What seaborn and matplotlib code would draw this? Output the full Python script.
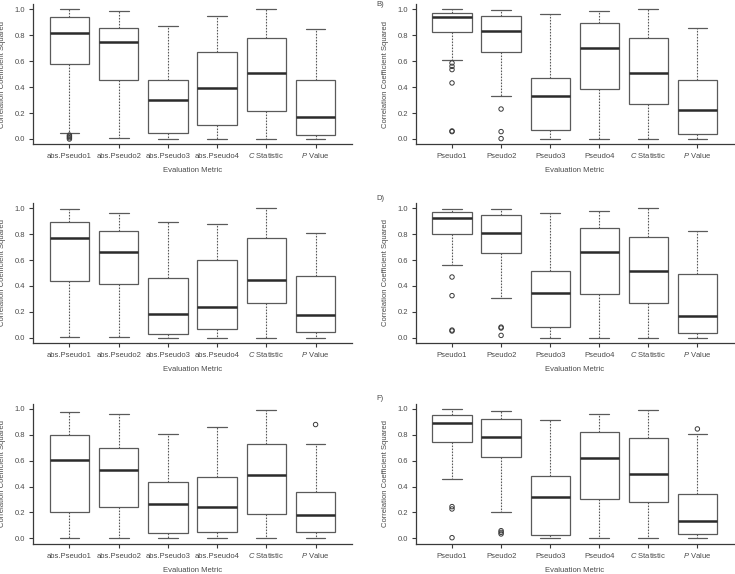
import numpy as np
import pandas as pd
import matplotlib
matplotlib.use("Agg")
import matplotlib.pyplot as plt
import seaborn as sns

# category labels (left column uses abs. prefix)
LABELS_ABS = ["abs.Pseudo1", "abs.Pseudo2", "abs.Pseudo3", "abs.Pseudo4",
              "$\\mathit{C}$ Statistic", "$\\mathit{P}$ Value"]
LABELS = ["Pseudo1", "Pseudo2", "Pseudo3", "Pseudo4",
          "$\\mathit{C}$ Statistic", "$\\mathit{P}$ Value"]

# five number summaries per box: [lower whisker, q1, median, q3, upper whisker]
A_boxes = [[0.05, 0.58, 0.82, 0.94, 1.00],
           [0.008, 0.452, 0.746, 0.859, 0.985],
           [0.00, 0.049, 0.298, 0.455, 0.874],
           [0.00, 0.108, 0.396, 0.671, 0.946],
           [0.00, 0.219, 0.506, 0.781, 1.00],
           [0.00, 0.031, 0.167, 0.458, 0.851]]
A_out = [[0.03, 0.02, 0.01, 0.0], [], [], [], [], []]

B_boxes = [[0.609, 0.828, 0.943, 0.974, 1.00],
           [0.334, 0.668, 0.830, 0.951, 0.992],
           [0.00, 0.072, 0.329, 0.473, 0.967],
           [0.00, 0.388, 0.704, 0.892, 0.990],
           [0.00, 0.267, 0.509, 0.776, 1.00],
           [0.00, 0.041, 0.226, 0.455, 0.859]]
B_out = [[0.586, 0.56, 0.535, 0.432, 0.062, 0.057],
         [0.231, 0.057, 0.003], [], [], [], []]

C_boxes = [[0.005, 0.438, 0.768, 0.892, 0.992],
           [0.003, 0.412, 0.660, 0.827, 0.966],
           [0.00, 0.026, 0.186, 0.461, 0.897],
           [0.00, 0.064, 0.235, 0.603, 0.881],
           [0.00, 0.271, 0.448, 0.771, 1.00],
           [0.00, 0.041, 0.173, 0.474, 0.812]]
C_out = [[], [], [], [], [], []]

D_boxes = [[0.564, 0.799, 0.928, 0.969, 0.992],
           [0.304, 0.655, 0.809, 0.946, 0.992],
           [0.00, 0.080, 0.343, 0.513, 0.961],
           [0.00, 0.338, 0.662, 0.848, 0.979],
           [0.00, 0.265, 0.515, 0.776, 1.00],
           [0.00, 0.039, 0.170, 0.490, 0.827]]
D_out = [[0.469, 0.325, 0.059, 0.052],
         [0.082, 0.075, 0.018], [], [], [], []]

E_boxes = [[0.00, 0.201, 0.603, 0.796, 0.979],
           [0.00, 0.240, 0.528, 0.696, 0.959],
           [0.00, 0.041, 0.265, 0.438, 0.807],
           [0.00, 0.046, 0.245, 0.474, 0.861],
           [0.00, 0.186, 0.492, 0.727, 0.992],
           [0.00, 0.049, 0.180, 0.356, 0.732]]
E_out = [[], [], [], [], [], [0.879]]

F_boxes = [[0.459, 0.742, 0.892, 0.956, 0.997],
           [0.206, 0.626, 0.784, 0.925, 0.982],
           [0.00, 0.023, 0.320, 0.479, 0.915],
           [0.00, 0.304, 0.619, 0.820, 0.964],
           [0.00, 0.278, 0.497, 0.776, 0.992],
           [0.00, 0.031, 0.131, 0.343, 0.804]]
F_out = [[0.245, 0.227, 0.005], [0.059, 0.046, 0.034], [], [], [], [0.845]]

PANEL_TAGS = ["", "B)", "", "D)", "", "F)"]

sns.set_style("ticks")
plt.rcParams["font.family"] = ["Liberation Sans", "DejaVu Sans"]
plt.rcParams["mathtext.fontset"] = "custom"
plt.rcParams["mathtext.rm"] = "Liberation Sans"
plt.rcParams["mathtext.it"] = "Liberation Sans:italic"

TXT = "#4a4a4a"
EDGE = "#5a5a5a"
FS = 5.5

fig = plt.figure(figsize=(7.35, 5.74), dpi=100)

col_left = [33 / 735, 415.7 / 735]
col_w = [319 / 735, 318 / 735]
row_bottom = [0.7488, 0.4026, 0.0531]
row_h = [0.2441, 0.2436, 0.2436]

panels = [(A_boxes, A_out, LABELS_ABS), (B_boxes, B_out, LABELS),
          (C_boxes, C_out, LABELS_ABS), (D_boxes, D_out, LABELS),
          (E_boxes, E_out, LABELS_ABS), (F_boxes, F_out, LABELS)]

for i, (boxes, outs, labels) in enumerate(panels):
    r, c = divmod(i, 2)
    ax = fig.add_axes([col_left[c], row_bottom[r], col_w[c], row_h[r]])

    df = pd.DataFrame({
        "metric": [lab for lab, b in zip(labels, boxes) for _ in b],
        "value": [v for b in boxes for v in b],
    })
    sns.boxplot(data=df, x="metric", y="value", order=labels, ax=ax,
                whis=(0, 100), width=0.8, showfliers=False,
                color="white", saturation=1, linecolor=EDGE, linewidth=0.9,
                medianprops={"color": "#2b2b2b", "linewidth": 1.8},
                whiskerprops={"color": EDGE, "linewidth": 0.8,
                              "linestyle": (0, (1.5, 1.2))},
                capprops={"color": EDGE, "linewidth": 0.9})

    odf = pd.DataFrame({
        "metric": [lab for lab, o in zip(labels, outs) for _ in o],
        "value": [v for o in outs for v in o],
    })
    if len(odf):
        sns.stripplot(data=odf, x="metric", y="value", order=labels, ax=ax,
                      jitter=False, size=3.2, facecolors="none",
                      edgecolor="#3a3a3a", linewidth=0.7)

    ax.set_xlim(-0.74, 5.74)
    ax.set_ylim(-0.04, 1.04)
    ax.set_yticks([0.0, 0.2, 0.4, 0.6, 0.8, 1.0])
    ax.set_yticklabels(["0.0", "0.2", "0.4", "0.6", "0.8", "1.0"])
    sns.despine(ax=ax)
    for s in ["left", "bottom"]:
        ax.spines[s].set_color("#3a3a3a")
        ax.spines[s].set_linewidth(0.9)
    ax.tick_params(axis="both", labelsize=FS, colors="#3a3a3a",
                   labelcolor=TXT, length=2.6, width=0.8, pad=3)
    # align all category labels on a common baseline (mathtext labels
    # otherwise sit lower)
    ax.tick_params(axis="x", pad=7.6)
    for t in ax.get_xticklabels():
        t.set_verticalalignment("baseline")

    ax.set_xlabel("Evaluation Metric", fontsize=FS, color=TXT)
    ax.set_ylabel("Correlation Coefficient Squared", fontsize=FS, color=TXT)
    ax.xaxis.set_label_coords(0.5, -0.166)
    ax.yaxis.set_label_coords(-0.085, 0.5)

    if PANEL_TAGS[i]:
        fig.text(col_left[c] - 39 / 735,
                 min(row_bottom[r] + row_h[r] + 5 / 574, 1 - 5 / 574),
                 PANEL_TAGS[i], fontsize=FS, color=TXT,
                 ha="left", va="center")

fig.savefig("out.png", dpi=100)
